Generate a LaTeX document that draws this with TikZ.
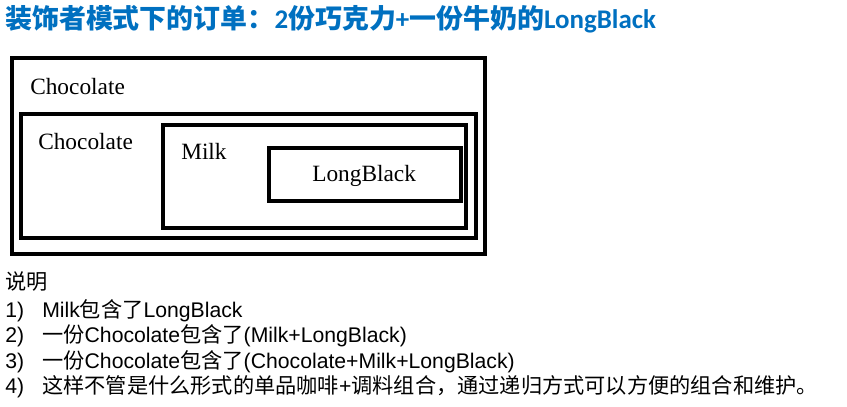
\documentclass[tikz,border=0pt]{standalone}
\usepackage{fontspec}
\setmainfont{Liberation Sans}
\newfontfamily\cjk{Noto Sans CJK SC}
\newfontfamily\serifl{Liberation Serif}
\newfontfamily\calib{Carlito}
\definecolor{TitleBlue}{HTML}{0070C0}
\tikzset{
  layer/.style={draw=black, line width=2.5pt},
  layerlabel/.style={anchor=base west, inner sep=0pt, font=\serifl\fontsize{17.5}{20}\selectfont},
  note/.style={anchor=base west, inner sep=0pt, font=\fontsize{15.9}{18}\selectfont},
  heading/.style={anchor=base west, inner sep=0pt, text=TitleBlue, font=\bfseries\fontsize{20.2}{24}\selectfont}
}
\newcommand{\zh}[1]{{\cjk #1}}

\begin{document}
\begin{tikzpicture}[x=0.75pt,y=-0.75pt]
  \useasboundingbox (0,0) rectangle (847,407);
  \node[heading] (title) at (5,28) {\cjk 装饰者模式下的订单：{\calib 2}份巧克力{\calib +}一份牛奶的{\calib LongBlack}};
  % nested decorators
  \draw[layer] (12,58) rectangle (485,254);
  \draw[layer] (21,114) rectangle (476,238);
  \draw[layer] (163,125) rectangle (466,228);
  \draw[layer] (269,148) rectangle (461,201);
  \node[layerlabel] (choc1) at (30,94) {Chocolate};
  \node[layerlabel] (choc2) at (38,149) {Chocolate};
  \node[layerlabel] (milk) at (181,159) {Milk};
  \node[layerlabel] (black) at (312,181) {LongBlack};
  % notes
  \node[note] (notes) at (5,289) {\zh{说明}};
  \foreach \i/\y in {1/317,2/342,3/368,4/393}
    \node[note] (num\i) at (5,\y) {\i)};
  \node[note] (item1) at (42,317) {Milk\zh{包含了}LongBlack};
  \node[note] (item2) at (42,342) {\zh{一份}Chocolate\zh{包含了}(Milk+LongBlack)};
  \node[note] (item3) at (42,368) {\zh{一份}Chocolate\zh{包含了}(Chocolate+Milk+LongBlack)};
  \node[note] (item4) at (42,393) {\zh{这样不管是什么形式的单品咖啡}+\zh{调料组合，通过递归方式可以方便的组合和维护。}};
\end{tikzpicture}
\end{document}
